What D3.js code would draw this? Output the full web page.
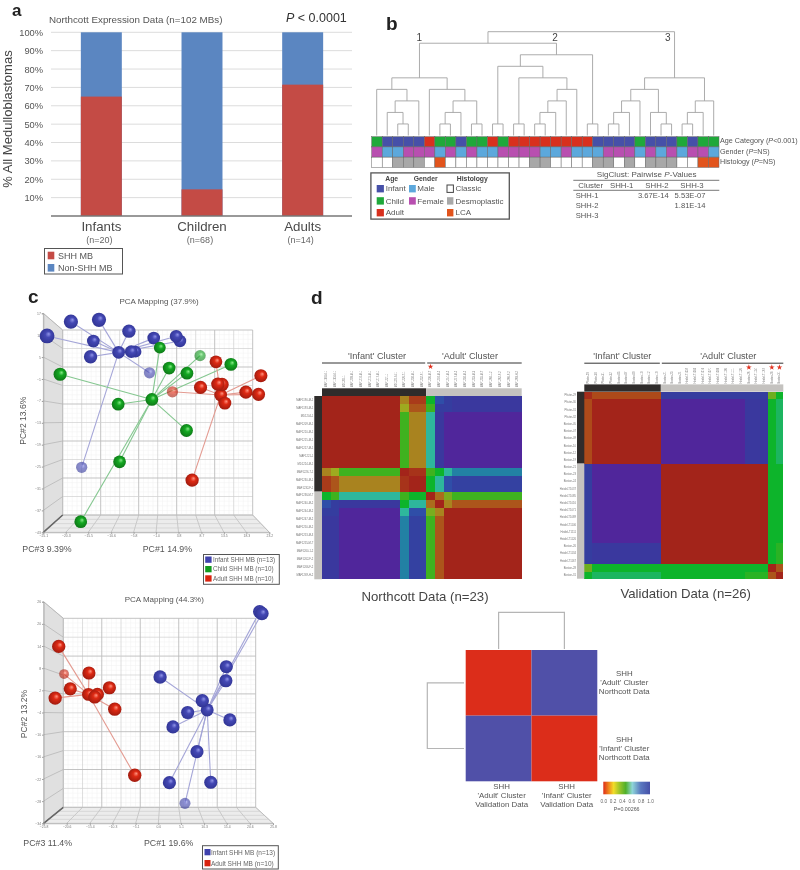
<!DOCTYPE html>
<html><head><meta charset="utf-8">
<script src="https://cdnjs.cloudflare.com/ajax/libs/d3/7.8.5/d3.min.js"></script>
<style>
html,body{margin:0;padding:0;background:#fff}
svg{display:block;font-family:"Liberation Sans",Arial,sans-serif;filter:blur(.5px)}
</style></head><body><svg id="fig" width="800" height="870"></svg>
<script>
// ---------- panel a ----------
const ageGroups = ["Infants","Children","Adults"];
const ageGroupN = ["(n=20)","(n=68)","(n=14)"];
const shhPercent = [65,14.5,71.5];
const percentTicks = [10,20,30,40,50,60,70,80,90,100];
// ---------- panel b ----------
const ageCategory = "CIIIIACCICCACAAAAAAAAIIIICIIICICC".split("");
const genderTrack = "FMMFFFMFMFMMFFFFMMFMMMFFFMFMFMFFM".split("");
const histologyTrack = "CCDDDCLCCCCCCCCDDCCCCDDCDCDDDCCLL".split("");
const cluster1 = [5,[4,0,[3,[2,1,[1,2,3]],4]],[4,5,[3,[2,[1,6,7],8],[1,9,10]]]];
const cluster2 = [7,[6,[1,11,12],[5,[1,13,14],[4,[3,[2,[1,15,16],17],18],19]]],[1,20,21]];
const cluster3 = [5,[4,[3,[2,[1,22,23],24],25],[2,26,[1,27,28]]],[3,[2,[1,29,30],31],32]];
const sigClustHeader = ["Cluster","SHH-1","SHH-2","SHH-3"];
const sigClustRows = [["SHH-1","","3.67E-14","5.53E-07"],["SHH-2","","","1.81E-14"],["SHH-3","","",""]];
// ---------- panel c : [PC1, PC2, PC3] ----------
const pcaATicksX = [-25.1,-20.3,-15.5,-10.6,-5.8,-1.0,3.8,8.7,13.5,18.3,23.2];
const pcaATicksY = [17,11,5,-1,-7,-13,-19,-25,-31,-37,-43];
const pcaAInfant = [[-9.0,6.3,0],[-19.2,14.7,7],[-13.2,15.2,7],[-6.8,12.1,3],[-24.3,10.8,10],[-14.4,9.4,0],[-15.0,5.1,3],[-5.4,6.5,-4],[-6.3,6.5,0],[-1.5,10.2,0],[4.1,9.4,-1],[3.3,10.7,0],[-2.4,0.7,-7],[-16.9,-25.2,-7]];
const pcaAChild = [[-1.9,-6.6,0],[-21.5,0.3,2],[-9.1,-7.9,0],[-8.8,-23.7,0],[-17.1,-40.1,0],[-0.2,7.6,-4],[1.8,2.0,0],[5.6,0.6,0],[8.4,5.4,-7],[15.0,3.0,1],[5.5,-15.1,1]];
const pcaAAdult = [[12.8,-5.4,0],[11.8,3.7,0],[21.4,-0.1,2],[8.5,-3.3,2],[13.1,-2.5,3],[12.2,-2.4,3],[18.2,-4.6,2],[20.9,-5.2,2],[13.7,-7.6,1],[2.5,-4.5,-7],[6.7,-28.7,3]];
const pcaBTicksX = [-25.8,-20.6,-15.4,-10.3,-5.1,0,5.1,10.3,15.4,20.6,25.8];
const pcaBTicksY = [26,20,14,8,2,-4,-10,-16,-22,-28,-34];
const pcaBAdult = [[-15.7,0.9,1],[-22.4,13.9,3],[-15.6,6.7,2],[-21.2,6.4,-14],[-19.8,2.4,2],[-23.2,-0.1,3],[-13.7,0.9,2],[-14.3,0.2,2],[-11.0,2.7,2],[-9.8,-3.1,3],[-5.3,-21.0,3]];
const pcaBInfant = [[11.0,-3.3,1],[22.8,23.3,3],[23.3,22.8,4],[15.3,8.4,2],[15.2,4.6,2],[0.4,5.6,3],[9.9,-0.8,3],[6.6,-4.0,2],[3.3,-7.9,2],[16.1,-6.0,2],[8.7,-14.6,2],[2.5,-23.0,2],[11.8,-22.9,2],[6.0,-28.6,-8]];
// ---------- panel d : block values of the consensus matrices ----------
const northcottSamples = ["MAF1190-M-1","MAF1193-M-1","MD1204-1","MAF1209-M-1","MAF1210-M-1","MAF1215-M-1","MAF1217-M-1","MAF1221-1","MD1224-M-1","MAF1226-T-1","MAF1230-M-1","MAF1232-F-1","MAF1236-M-T","MAF1240-M-2","MAF1244-M-2","MAF1247-M-2","MAF1250-M-2","MAF1253-M-3","MAF1255-M-T","MAF1260-1-2","MAF1262-F-2","MAF1266-F-2","MAF1269-H-2"];
const northcottSizes = [1,1,7,1,2,1,1,1,8];
const northcottValues = [
 [0,0,0,.2,.06,.45,.82,.9,.92],
 [0,0,0,.3,.12,.38,.9,.9,.92],
 [0,0,0,.38,.2,.6,.92,1,1],
 [.2,.3,.38,0,.04,.38,.45,.6,.72],
 [.06,.12,.2,.04,0,.45,.6,.82,.88],
 [.45,.38,.6,.38,.45,0,.16,.33,.38],
 [.82,.9,.92,.45,.6,.16,0,.2,.12],
 [.9,.9,1,.6,.82,.33,.2,0,0],
 [.92,.92,1,.72,.88,.38,.12,0,0]];
const validationSamples = ["Pfister-29","Pfister-30","Pfister-31","Pfister-32","Boston-05","Boston-07","Boston-09","Boston-10","Boston-12","Boston-19","Boston-21","Boston-23","Boston-24","Heidel-T1037","Heidel-T1085","Heidel-T1016","Heidel-T1071","Heidel-T1089","Heidel-T1106","Heidel-T1111","Heidel-T1126","Boston-26","Heidel-T1134","Heidel-T1167","Boston-28","Boston-31"];
const validationSizes = [1,9,11,3,1,1];
const validationValues = [
 [.02,.1,.9,.9,.34,.45],
 [.1,0,1,.92,.45,.52],
 [.9,1,0,0,.45,.45],
 [.9,.92,0,0,.45,.41],
 [.34,.45,.45,.45,0,.12],
 [.45,.52,.45,.41,.12,0]];
const northcottStars = [12];
const validationStars = [21,24,25];
const metaValues = [[0,1],[1,0]];
const metaRows = [["SHH","'Adult' Cluster","Northcott Data"],["SHH","'Infant' Cluster","Northcott Data"]];
const metaCols = [["SHH","'Adult' Cluster","Validation Data"],["SHH","'Infant' Cluster","Validation Data"]];
const scaleTicks = [0,.2,.4,.6,.8,1];

const svg = d3.select("#fig");
const defs = svg.append("defs");
const ink = "#4a4a4a";
function txt(x,y,s,size,o={}){
  const t = svg.append("text").attr("x",x).attr("y",y).attr("font-size",size)
    .attr("fill",o.fill||ink).attr("text-anchor",o.anchor||"start").attr("font-weight",o.weight||null);
  if(o.rotate!=null) t.attr("transform",`rotate(${o.rotate},${x},${y})`);
  [].concat(s).forEach(p=>{ if(typeof p==="string") t.append("tspan").text(p); else t.append("tspan").attr("font-style","italic").text(p.i); });
  return t;
}
function boxed(x,y,w,h,sw){ svg.append("rect").attr("x",x).attr("y",y).attr("width",w).attr("height",h).attr("fill","#fff").attr("stroke","#555").attr("stroke-width",sw); }
function swatch(x,y,w,h,c,st){ svg.append("rect").attr("x",x).attr("y",y).attr("width",w).attr("height",h).attr("fill",c).attr("stroke",st||"none"); }
const panelLetter=(x,y,s,size)=>txt(x,y,s,size||19,{weight:"bold",fill:"#222"});

// ================= a =================
panelLetter(12,15.5,"a",17);
const ax = d3.scaleBand().domain(ageGroups).range([51,353]).paddingInner(.593).paddingOuter(.2965);
const ay = d3.scaleLinear().domain([0,100]).range([216,32.3]);
const colShh="#c44b45", colNon="#5b86c1";
const ga = svg.append("g");
ga.append("g").selectAll("line").data(percentTicks).join("line")
  .attr("x1",51).attr("x2",352).attr("y1",d=>ay(d)).attr("y2",d=>ay(d)).attr("stroke","#dcdcdc");
ga.append("g").selectAll("rect").data(ageGroups).join("rect")
  .attr("x",d=>ax(d)).attr("width",ax.bandwidth()).attr("y",ay(100)).attr("height",ay(0)-ay(100)).attr("fill",colNon);
ga.append("g").selectAll("rect").data(ageGroups).join("rect")
  .attr("x",d=>ax(d)).attr("width",ax.bandwidth()).attr("y",(d,i)=>ay(shhPercent[i])).attr("height",(d,i)=>ay(0)-ay(shhPercent[i])).attr("fill",colShh);
const ayAxis = ga.append("g").attr("transform","translate(44,0)")
  .call(d3.axisLeft(ay).tickValues(percentTicks).tickSize(0).tickFormat(d=>d+"%"));
ayAxis.select(".domain").remove();
ayAxis.selectAll("text").attr("font-size",9.3).attr("fill","#555").attr("font-family","inherit").attr("x",-1);
ga.append("line").attr("x1",51).attr("x2",352).attr("y1",ay(0)).attr("y2",ay(0)).attr("stroke","#777").attr("stroke-width",1.4);
const axAxis = ga.append("g").attr("transform",`translate(0,${ay(0)})`).call(d3.axisBottom(ax).tickSize(0));
axAxis.select(".domain").remove();
axAxis.selectAll("text").attr("font-size",13.3).attr("fill",ink).attr("font-family","inherit").attr("dy",0).attr("y",15);
ageGroupN.forEach((s,i)=>txt(ax(ageGroups[i])+ax.bandwidth()/2-2,243,s,9,{anchor:"middle",fill:"#666"}));
txt(49,22.5,"Northcott Expression Data (n=102 MBs)",9.8,{fill:"#555"});
txt(286,22,[{i:"P"}," < 0.0001"],12.5,{fill:"#333"});
txt(12,119,"% All Medulloblastomas",13,{anchor:"middle",rotate:-90,fill:"#444"});
boxed(44.5,248.5,78,25.5,1);
swatch(47.7,251.7,6.6,7.6,colShh); swatch(47.7,264,6.6,7.6,colNon);
txt(58,258.7,"SHH MB",9,{fill:"#555"}); txt(58,271,"Non-SHH MB",9,{fill:"#555"});

// ================= b =================
panelLetter(386,30,"b");
const tx = d3.scaleBand().domain(d3.range(33)).range([371.7,719]);
const ageColor = {I:"#4650a8",C:"#1fa83a",A:"#d8301e"};
const genderColor = {M:"#5ca8dc",F:"#b84fb0"};
const histColor = {C:"#fff",D:"#a8a8a8",L:"#e2541c"};
[[ageCategory,ageColor,136.7],[genderTrack,genderColor,146.9],[histologyTrack,histColor,157.2]].forEach(([vals,pal,y])=>{
  svg.append("g").selectAll("rect").data(vals).join("rect")
   .attr("x",(d,i)=>tx(i)).attr("y",y).attr("width",tx.bandwidth()).attr("height",10.2)
   .attr("fill",d=>pal[d]).attr("stroke","#666").attr("stroke-width",.5);
});
const leafX = d3.scalePoint().domain(d3.range(33)).range([376.7,713.7]);
const levelY = d3.scaleLinear().domain([0,9]).range([135.5,31.7]);
const dendro = d3.hierarchy([9,[8,cluster1,cluster2],cluster3], d=>Array.isArray(d)?d.slice(1):null);
dendro.eachAfter(n=>{ if(n.children){ n.px=d3.mean(n.children,c=>c.px); n.py=levelY(n.data[0]); } else { n.px=leafX(n.data); n.py=levelY(0);} });
svg.append("g").selectAll("path").data(dendro.descendants().filter(n=>n.children)).join("path")
  .attr("d",n=>{const[a,b]=n.children;return `M${a.px},${a.py}V${n.py}H${b.px}V${b.py}`;})
  .attr("fill","none").attr("stroke","#a3a3a3").attr("stroke-width",.9);
[["1",419.3],["2",555],["3",667.7]].forEach(([s,x])=>txt(x,41,s,10,{anchor:"middle",fill:"#444"}));
txt(720,143.3,["Age Category (",{i:"P"},"<0.001)"],7.2,{fill:"#555"});
txt(720,154,["Gender (",{i:"P"},"=NS)"],7.2,{fill:"#555"});
txt(720,164.3,["Histology (",{i:"P"},"=NS)"],7.2,{fill:"#555"});
boxed(370.9,172.9,138.4,46.2,1.3);
[["Age",391.7],["Gender",425.7],["Histology",472.3]].forEach(([s,x])=>txt(x,180.8,s,6.8,{anchor:"middle",weight:"bold",fill:"#444"}));
const legY=[185,197.2,209];
[["Infant","I"],["Child","C"],["Adult","A"]].forEach(([s,k],i)=>{swatch(376.7,legY[i],7.2,7.4,ageColor[k]);txt(385.7,legY[i]+6.3,s,8,{fill:"#555"});});
[["Male","M"],["Female","F"]].forEach(([s,k],i)=>{swatch(409,legY[i],6.8,7.4,genderColor[k]);txt(417.3,legY[i]+6.3,s,8,{fill:"#555"});});
[["Classic","C"],["Desmoplastic","D"],["LCA","L"]].forEach(([s,k],i)=>{swatch(447,legY[i],6.4,7.4,histColor[k],k==="C"?"#444":null);txt(455.5,legY[i]+6.3,s,8,{fill:"#555"});});
txt(646.7,177.3,["SigClust: Pairwise ",{i:"P"},"-Values"],8.1,{anchor:"middle",fill:"#555"});
[180.3,190.3].forEach(y=>svg.append("line").attr("x1",573.3).attr("x2",719.3).attr("y1",y).attr("y2",y).attr("stroke","#555").attr("stroke-width",.8));
const sigX=[590.7,621.7,657,692];
sigClustHeader.forEach((s,i)=>txt(sigX[i],188.3,s,7.8,{anchor:"middle",fill:"#555"}));
const sigCellX=[575.7,621.7,653.3,690];
sigClustRows.forEach((r,j)=>r.forEach((s,i)=>{ if(s) txt(sigCellX[i],198.3+9.7*j,s,7.6,{anchor:i?"middle":"start",fill:"#555"}); }));

// ================= c =================
panelLetter(28,303,"c");
const sphereColors={blue:["#9094e8","#4448b4","#2c308c"],green:["#86e886","#14a822","#0c6a14"],red:["#ff9480","#de2a14","#8e160c"]};
Object.entries(sphereColors).forEach(([k,[a,b,c]])=>{
  const g=defs.append("radialGradient").attr("id","sp-"+k).attr("cx",.5).attr("cy",.5).attr("r",.62).attr("fx",.62).attr("fy",.36);
  [[0,a],[.32,b],[1,c]].forEach(([o,col])=>g.append("stop").attr("offset",o).attr("stop-color",col));
});
const radius = d3.scaleLinear().domain([-15,10]).range([4.8,7.4]);
const fade = d3.scaleThreshold().domain([-6]).range([.62,1]);
function pca(cfg){
  const x=d3.scaleLinear().domain(d3.extent(cfg.tx)).range([cfg.fx0,cfg.fx1]);
  const y=d3.scaleLinear().domain([cfg.ty[0],cfg.ty[10]]).range([cfg.fy0,cfg.fy1]);
  const bx=d3.scaleLinear().domain([0,10]).range([cfg.bx0,cfg.bx1]);
  const by=d3.scaleLinear().domain([0,10]).range([cfg.by0,cfg.by1]);
  const g=svg.append("g");
  const poly=(pts,f)=>g.append("polygon").attr("points",pts.map(p=>p.join(",")).join(" ")).attr("fill",f).attr("stroke","#aaa").attr("stroke-width",.5);
  poly([[cfg.fx0,cfg.fy0],[cfg.bx0,cfg.by0],[cfg.bx0,cfg.by1],[cfg.fx0,cfg.fy1]],"#e0e0e0");
  poly([[cfg.bx0,cfg.by1],[cfg.bx1,cfg.by1],[cfg.fx1,cfg.fy1],[cfg.fx0,cfg.fy1]],"#ececec");
  const minor=d3.range(0,10.01,.25).filter(d=>d%1);
  const L=(x1,y1,x2,y2,c,w)=>g.append("line").attr("x1",x1).attr("y1",y1).attr("x2",x2).attr("y2",y2).attr("stroke",c).attr("stroke-width",w);
  minor.forEach(d=>{L(bx(d),by(0),bx(d),by(10),"#f0f0f0",.5);L(bx(0),by(d),bx(10),by(d),"#f0f0f0",.5);});
  d3.range(0,11).forEach(d=>{
    const dark=d%2===0;
    L(bx(d),by(0),bx(d),by(10),dark?"#bcbcbc":"#d0d0d0",dark?.9:.7);
    L(bx(0),by(d),bx(10),by(d),dark?"#bcbcbc":"#d0d0d0",dark?.9:.7);
    L(cfg.fx0,y(cfg.ty[d]),bx(0),by(d),"#aaa",.6);
    L(x(cfg.tx[d]),cfg.fy1,bx(d),by(10),"#b0b0b0",.6);
  });
  [.25,.5,.75].forEach(f=>{const fy=cfg.by1+(cfg.fy1-cfg.by1)*f;L(bx(0)+(cfg.fx0-bx(0))*f,fy,bx(10)+(cfg.fx1-bx(10))*f,fy,"#c8c8c8",.6);});
  L(cfg.fx0,cfg.fy1,bx(0),by(10),"#666",1.6);
  const xa=g.append("g").attr("transform",`translate(0,${cfg.fy1})`).call(d3.axisBottom(x).tickValues(cfg.tx).tickSize(1.5).tickPadding(1).tickFormat(d3.format(".1f")));
  const ya=g.append("g").attr("transform",`translate(${cfg.fx0},0)`).call(d3.axisLeft(y).tickValues(cfg.ty).tickSize(1.5).tickPadding(1));
  [xa,ya].forEach(a=>{a.select(".domain").attr("stroke","#999").attr("stroke-width",.6);a.selectAll("line").attr("stroke","#999");a.selectAll("text").attr("font-size",3.4).attr("fill","#777").attr("font-family","inherit");});
  cfg.series.forEach(({pts,line})=>{
    const hub=pts[0];
    g.append("g").selectAll("line").data(pts.slice(1)).join("line")
      .attr("x1",x(hub[0])).attr("y1",y(hub[1])).attr("x2",d=>x(d[0])).attr("y2",d=>y(d[1]))
      .attr("stroke",line).attr("stroke-width",1.1);
  });
  cfg.series.forEach(({pts,col})=>{
    g.append("g").selectAll("circle").data(pts).join("circle")
      .attr("cx",d=>x(d[0])).attr("cy",d=>y(d[1])).attr("r",d=>radius(d[2]))
      .attr("opacity",d=>fade(d[2])).attr("fill",`url(#sp-${col})`);
  });
}
const lineCol={blue:"#a5a6d8",green:"#85c790",red:"#e39a90"};
pca({tx:pcaATicksX,ty:pcaATicksY,fx0:43.3,fx1:269.3,fy0:313.3,fy1:532.3,bx0:62.7,bx1:252.7,by0:330,by1:515,
  series:[{pts:pcaAInfant,col:"blue",line:lineCol.blue},{pts:pcaAChild,col:"green",line:lineCol.green},{pts:pcaAAdult,col:"red",line:lineCol.red}]});
pca({tx:pcaBTicksX,ty:pcaBTicksY,fx0:43.6,fx1:273,fy0:601.7,fy1:823.3,bx0:63.3,bx1:255.7,by0:618.3,by1:807.3,
  series:[{pts:pcaBAdult,col:"red",line:lineCol.red},{pts:pcaBInfant,col:"blue",line:lineCol.blue}]});
txt(159,304,"PCA Mapping (37.9%)",8,{anchor:"middle",fill:"#555"});
txt(164.3,602.3,"PCA Mapping (44.3%)",8,{anchor:"middle",fill:"#555"});
txt(26.5,420.7,"PC#2  13.6%",8.6,{anchor:"middle",rotate:-90,fill:"#555"});
txt(27,714,"PC#2  13.2%",8.6,{anchor:"middle",rotate:-90,fill:"#555"});
txt(22.3,552.3,"PC#3 9.39%",8.8,{fill:"#555"}); txt(142.7,552.3,"PC#1 14.9%",8.8,{fill:"#555"});
txt(23.3,845.7,"PC#3 11.4%",8.8,{fill:"#555"}); txt(144,845.7,"PC#1 19.6%",8.8,{fill:"#555"});
boxed(203.5,554.5,75.8,29.8,1);
[["Infant SHH MB (n=13)","#3f42ad",556.5],["Child SHH MB (n=10)","#129a1e",566],["Adult SHH MB (n=10)","#d9230f",575.3]].forEach(([s,c,y])=>{swatch(205.2,y,6.4,6.3,c);txt(213,y+5.4,s,6.3,{fill:"#666"});});
boxed(202.5,845.7,75.8,23.3,1);
[["Infant SHH MB (n=13)","#3f42ad",849],["Adult SHH MB (n=10)","#d9230f",860]].forEach(([s,c,y])=>{swatch(204.5,y,6,6.3,c);txt(211,y+5.6,s,6.5,{fill:"#666"});});

// ================= d =================
panelLetter(311,304,"d");
const consensus = d3.scaleLinear()
  .domain([0,.1,.2,.3,.38,.45,.6,.72,.82,.9,1])
  .range(["#a3241a","#ad4a1a","#a9831f","#9eaa1f","#3fb21f","#0db42b","#2eb79c","#2281a4","#2f4ea8","#353d9f","#50269b"]);
function heat(cfg){
  const x=d3.scaleBand().domain(cfg.names).range([cfg.x0,cfg.x1]);
  const y=d3.scaleBand().domain(cfg.names).range([cfg.y0,cfg.y1]);
  // contiguous blocks: one rectangle per pair of sample groups
  const starts=d3.cumsum([0,...cfg.sizes]);
  const blocks=cfg.sizes.flatMap((nr,r)=>cfg.sizes.map((nc,c)=>({r,c,nr,nc,v:cfg.values[r][c]})));
  const g=svg.append("g");
  g.append("g").selectAll("rect").data(blocks).join("rect")
    .attr("x",d=>x(cfg.names[starts[d.c]])).attr("y",d=>y(cfg.names[starts[d.r]]))
    .attr("width",d=>x.step()*d.nc).attr("height",d=>y.step()*d.nr)
    .attr("fill",d=>consensus(d.v)).attr("shape-rendering","crispEdges");
  const spans=[[0,cfg.split,"#2f2c2b"],[cfg.split,cfg.names.length,"#c4c2bf"]];
  g.append("g").selectAll("rect").data(spans).join("rect")
    .attr("x",d=>x.step()*d[0]+cfg.x0).attr("y",cfg.y0-cfg.bar).attr("width",d=>x.step()*(d[1]-d[0])).attr("height",cfg.bar).attr("fill",d=>d[2]);
  g.append("g").selectAll("rect").data(spans).join("rect")
    .attr("x",cfg.x0-cfg.bar).attr("y",d=>y.step()*d[0]+cfg.y0).attr("width",cfg.bar).attr("height",d=>y.step()*(d[1]-d[0])).attr("fill",d=>d[2]);
  const top=g.append("g").attr("transform",`translate(0,${cfg.y0-cfg.bar-1})`).call(d3.axisTop(x).tickSize(0).tickPadding(0));
  top.select(".domain").remove();
  top.selectAll("text").attr("font-size",2.6).attr("fill","#777").attr("font-family","inherit").attr("text-anchor","start").attr("transform","rotate(-90)").attr("x",0).attr("y",0).attr("dy","0.32em");
  const left=g.append("g").attr("transform",`translate(${cfg.x0-cfg.bar-1},0)`).call(d3.axisLeft(y).tickSize(0).tickPadding(0));
  left.select(".domain").remove();
  left.selectAll("text").attr("font-size",2.7).attr("fill","#777").attr("font-family","inherit");
  g.append("g").selectAll("path").data(cfg.stars).join("path")
    .attr("d",d3.symbol(d3.symbolStar,10)).attr("fill","#e0301e")
    .attr("transform",d=>`translate(${x(cfg.names[d])+x.bandwidth()/2},${cfg.starY})`);
  g.append("line").attr("x1",x(cfg.names[0])).attr("x2",x(cfg.names[cfg.split])-1).attr("y1",cfg.lineY).attr("y2",cfg.lineY).attr("stroke","#333").attr("stroke-width",1);
  g.append("line").attr("x1",x(cfg.names[cfg.split])+1).attr("x2",cfg.x1).attr("y1",cfg.lineY).attr("y2",cfg.lineY).attr("stroke","#333").attr("stroke-width",1);
}
heat({names:northcottSamples,sizes:northcottSizes,values:northcottValues,x0:322,x1:521.7,y0:396,y1:579.3,bar:7.7,split:12,stars:northcottStars,starY:366.7,lineY:363});
heat({names:validationSamples,sizes:validationSizes,values:validationValues,x0:584.3,x1:783.3,y0:391.7,y1:578.7,bar:7.3,split:10,stars:validationStars,starY:367.3,lineY:363.2});
txt(377,359,"'Infant' Cluster",9.2,{anchor:"middle",fill:"#555"});
txt(470,359,"'Adult' Cluster",9.2,{anchor:"middle",fill:"#555"});
txt(622.3,359.3,"'Infant' Cluster",9.2,{anchor:"middle",fill:"#555"});
txt(728.3,359.3,"'Adult' Cluster",9.2,{anchor:"middle",fill:"#555"});
txt(425,601,"Northcott Data (n=23)",13.2,{anchor:"middle",fill:"#444"});
txt(685.7,597.7,"Validation Data (n=26)",13.2,{anchor:"middle",fill:"#444"});

// meta heat map
const metaColor=d3.scaleLinear().domain([0,1]).range(["#dc2d1a","#5050a8"]);
const mx=d3.scaleBand().domain([0,1]).range([465.7,597.3]);
const my=d3.scaleBand().domain([0,1]).range([650,781.3]);
metaValues.forEach((row,r)=>svg.append("g").selectAll("rect").data(row).join("rect")
  .attr("x",(d,c)=>mx(c)).attr("y",my(r)).attr("width",mx.bandwidth()).attr("height",my.bandwidth()).attr("fill",d=>metaColor(d)));
const mp=(d)=>svg.append("path").attr("d",d).attr("fill","none").attr("stroke","#b5b5b5").attr("stroke-width",1.2);
mp(d3.line()([[mx(0)+mx.bandwidth()/2,649],[mx(0)+mx.bandwidth()/2,612.3],[mx(1)+mx.bandwidth()/2,612.3],[mx(1)+mx.bandwidth()/2,649]]));
mp(d3.line()([[464,my(0)+my.bandwidth()/2],[427.3,my(0)+my.bandwidth()/2],[427.3,my(1)+my.bandwidth()/2],[464,my(1)+my.bandwidth()/2]]));
metaRows.forEach((lines,r)=>lines.forEach((s,i)=>txt(624.3,[676,741.7][r]+i*9.15,s,7.9,{anchor:"middle",fill:"#555"})));
metaCols.forEach((lines,c)=>lines.forEach((s,i)=>txt([501.7,566.7][c],789+i*9.15,s,7.9,{anchor:"middle",fill:"#555"})));
const grad=defs.append("linearGradient").attr("id","meta-scale");
[[0,"#dc2d1a"],[.1,"#ee7a1c"],[.22,"#f2dc2a"],[.35,"#9ac42a"],[.48,"#4fb02a"],[.62,"#8fd6d8"],[.8,"#5a78c0"],[1,"#4650a8"]]
 .forEach(([o,c])=>grad.append("stop").attr("offset",o).attr("stop-color",c));
const sx=d3.scaleLinear().domain([0,1]).range([603.3,650]);
svg.append("rect").attr("x",sx(0)).attr("y",781.7).attr("width",sx(1)-sx(0)).attr("height",12.6).attr("fill","url(#meta-scale)");
const sa=svg.append("g").attr("transform","translate(0,794.3)").call(d3.axisBottom(sx).tickValues(scaleTicks).tickSize(0).tickPadding(5).tickFormat(d3.format(".1f")));
sa.select(".domain").remove();
sa.selectAll("text").attr("font-size",4.7).attr("fill","#666").attr("font-family","inherit");
txt(626.7,811.3,"P=0.00266",5.3,{anchor:"middle",fill:"#555"});
</script></body></html>
